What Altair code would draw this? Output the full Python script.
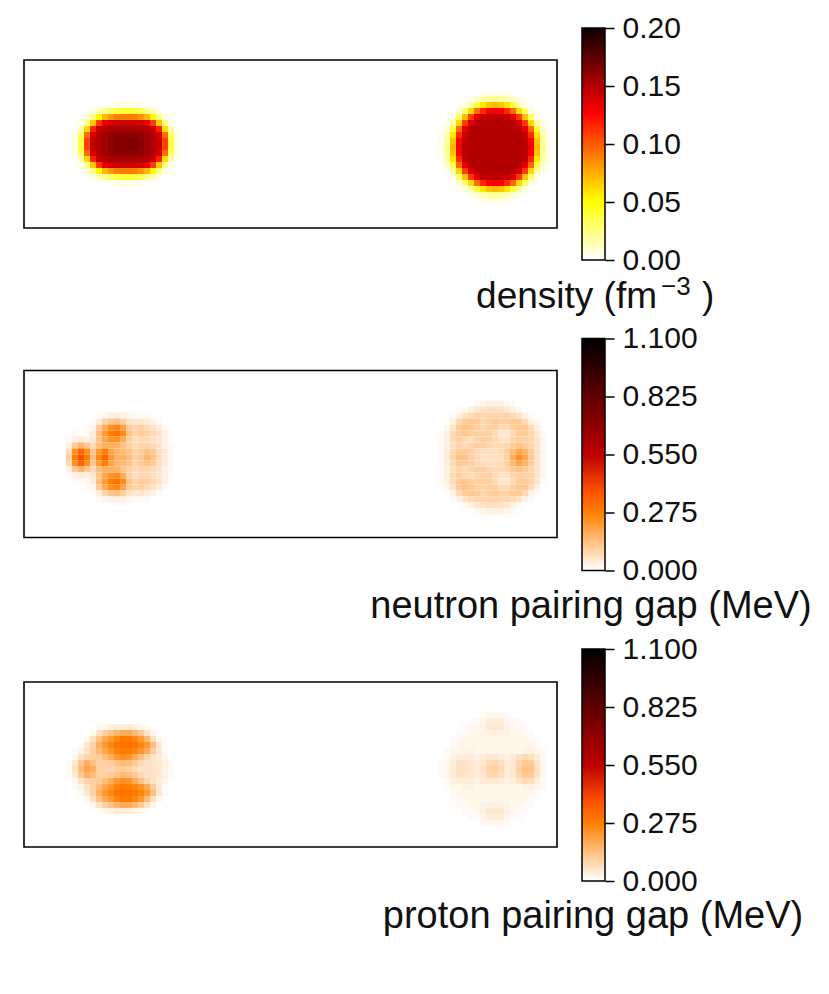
import altair as alt
import pandas as pd

# density in 1e-3 fm^-3, pairing gaps in 0.01 MeV. Blobs are mirrored top to bottom.
density_left = [
    [0, 0, 0, 0, 0, 0, 0, 1, 1, 1, 1, 0, 0, 0, 0, 0, 0, 0],
    [0, 0, 0, 0, 1, 2, 4, 6, 6, 6, 6, 4, 2, 1, 0, 0, 0, 0],
    [0, 0, 1, 6, 14, 24, 32, 38, 40, 40, 38, 32, 24, 14, 6, 1, 0, 0],
    [0, 1, 8, 26, 52, 72, 82, 88, 90, 90, 88, 82, 72, 52, 26, 8, 1, 0],
    [0, 5, 24, 68, 110, 132, 140, 142, 143, 143, 142, 140, 132, 110, 68, 24, 5, 0],
    [2, 16, 60, 118, 145, 150, 152, 152, 152, 152, 152, 152, 150, 145, 118, 60, 16, 2],
    [5, 32, 95, 140, 150, 155, 160, 162, 163, 163, 162, 160, 155, 150, 140, 95, 32, 5],
    [6, 38, 108, 145, 150, 155, 162, 165, 165, 165, 165, 162, 155, 150, 145, 108, 38, 6],
]
density_right = [
    [0, 0, 0, 0, 0, 0, 1, 3, 4, 4, 4, 3, 1, 0, 0, 0, 0, 0, 0],
    [0, 0, 0, 0, 1, 4, 10, 16, 20, 22, 20, 16, 10, 4, 1, 0, 0, 0, 0],
    [0, 0, 0, 1, 6, 18, 38, 58, 68, 72, 68, 58, 38, 18, 6, 1, 0, 0, 0],
    [0, 0, 1, 8, 30, 62, 95, 115, 127, 130, 127, 115, 95, 62, 30, 8, 1, 0, 0],
    [0, 1, 6, 30, 68, 110, 134, 144, 147, 148, 147, 144, 134, 110, 68, 30, 6, 1, 0],
    [0, 4, 18, 62, 110, 138, 148, 150, 150, 150, 150, 150, 148, 138, 110, 62, 18, 4, 0],
    [1, 10, 38, 95, 134, 148, 150, 150, 150, 150, 150, 150, 150, 148, 134, 95, 38, 10, 1],
    [3, 16, 58, 115, 144, 150, 150, 150, 150, 150, 150, 150, 150, 150, 144, 115, 58, 16, 3],
    [4, 20, 68, 127, 147, 150, 150, 150, 150, 150, 150, 150, 150, 150, 147, 127, 68, 20, 4],
    [4, 22, 72, 130, 148, 150, 150, 150, 150, 150, 150, 150, 150, 150, 148, 130, 72, 22, 4],
]
neutron_left = [
    [0, 0, 0, 0, 0, 1, 2, 3, 3, 3, 2, 1, 1, 1, 0, 0, 0, 0],
    [0, 0, 0, 0, 1, 4, 9, 12, 13, 10, 6, 5, 5, 4, 3, 1, 0, 0],
    [0, 0, 0, 1, 2, 11, 18, 24, 26, 20, 11, 9, 10, 8, 6, 4, 1, 0],
    [0, 1, 1, 1, 4, 14, 22, 28, 30, 25, 13, 9, 11, 10, 8, 6, 3, 0],
    [1, 3, 4, 3, 5, 13, 19, 23, 24, 18, 10, 7, 8, 8, 7, 5, 3, 0],
    [3, 11, 16, 12, 8, 14, 17, 17, 17, 13, 10, 8, 9, 9, 8, 6, 3, 1],
    [8, 24, 33, 24, 12, 22, 28, 20, 16, 15, 13, 9, 11, 13, 11, 7, 4, 1],
    [10, 28, 38, 28, 14, 26, 34, 22, 16, 17, 14, 10, 12, 16, 13, 8, 4, 1],
]
neutron_right = [
    [0, 0, 0, 0, 0, 0, 1, 2, 3, 3, 3, 2, 1, 0, 0, 0, 0, 0, 0],
    [0, 0, 0, 0, 1, 3, 5, 6, 7, 7, 6, 5, 3, 1, 0, 0, 0, 0, 0],
    [0, 0, 1, 3, 6, 8, 9, 9, 9, 9, 9, 9, 8, 6, 3, 1, 0, 0, 0],
    [0, 0, 3, 8, 11, 12, 11, 9, 10, 11, 10, 10, 11, 11, 8, 3, 1, 0, 0],
    [0, 2, 6, 11, 13, 12, 10, 9, 10, 10, 8, 8, 10, 12, 12, 8, 3, 0, 0],
    [1, 3, 8, 11, 12, 10, 10, 10, 10, 8, 5, 5, 8, 11, 11, 9, 5, 1, 0],
    [1, 3, 8, 10, 8, 7, 9, 10, 10, 8, 6, 6, 9, 10, 10, 9, 6, 2, 0],
    [1, 3, 7, 9, 8, 9, 10, 10, 9, 8, 8, 9, 11, 13, 11, 9, 6, 2, 0],
    [1, 4, 8, 11, 11, 10, 8, 7, 7, 7, 8, 10, 15, 19, 16, 11, 6, 2, 0],
    [1, 4, 9, 13, 13, 10, 8, 6, 6, 7, 7, 10, 18, 24, 19, 12, 6, 2, 0],
]
proton_left = [
    [0, 0, 0, 0, 0, 1, 2, 3, 4, 4, 4, 3, 2, 1, 0, 0, 0, 0],
    [0, 0, 0, 0, 2, 6, 10, 13, 16, 18, 18, 15, 11, 6, 2, 0, 0, 0],
    [0, 0, 0, 2, 7, 13, 18, 22, 26, 29, 29, 26, 22, 15, 7, 2, 0, 0],
    [0, 0, 1, 5, 10, 17, 22, 26, 29, 31, 31, 29, 26, 22, 14, 5, 1, 0],
    [0, 1, 3, 6, 10, 15, 19, 23, 27, 29, 28, 26, 23, 18, 11, 5, 1, 0],
    [0, 2, 6, 9, 10, 11, 14, 18, 22, 24, 23, 18, 13, 9, 6, 4, 2, 0],
    [1, 5, 12, 17, 14, 10, 10, 11, 13, 15, 14, 11, 8, 6, 6, 5, 3, 1],
    [1, 6, 14, 20, 17, 10, 9, 9, 10, 11, 10, 8, 6, 6, 6, 5, 3, 1],
]
proton_right = [
    [0, 0, 0, 0, 0, 0, 0, 1, 2, 2, 2, 1, 0, 0, 0, 0, 0, 0, 0],
    [0, 0, 0, 0, 0, 1, 1, 2, 4, 4, 4, 2, 1, 1, 0, 0, 0, 0, 0],
    [0, 0, 0, 0, 1, 1, 2, 3, 5, 5, 5, 3, 2, 1, 1, 0, 0, 0, 0],
    [0, 0, 0, 1, 1, 2, 2, 3, 3, 3, 3, 3, 2, 2, 1, 1, 0, 0, 0],
    [0, 0, 1, 1, 2, 2, 2, 2, 2, 2, 2, 2, 2, 2, 2, 1, 1, 0, 0],
    [0, 0, 1, 2, 2, 2, 2, 2, 2, 2, 2, 2, 2, 2, 2, 2, 1, 0, 0],
    [0, 1, 2, 2, 3, 3, 2, 2, 2, 2, 2, 2, 2, 2, 3, 3, 2, 1, 0],
    [0, 1, 3, 4, 4, 4, 3, 4, 5, 5, 4, 3, 4, 6, 8, 7, 4, 1, 0],
    [1, 2, 4, 6, 6, 5, 4, 5, 8, 9, 7, 4, 5, 9, 12, 11, 6, 2, 0],
    [1, 2, 4, 6, 6, 5, 4, 6, 9, 10, 8, 4, 5, 10, 13, 12, 7, 2, 0],
]

density_ticks = [0.0, 0.05, 0.10, 0.15, 0.20]
gap_ticks = [0.0, 0.275, 0.55, 0.825, 1.1]

# hot_r and gist_heat_r
hot_stops = [(0, '#ffffff'), (0.254, '#ffff00'), (0.635, '#ff0000'), (1, '#0b0000')]
heat_stops = [(0, '#ffffff'), (0.25, '#ff8000'), (0.3333, '#ff5500'), (0.5, '#bf0000'), (1, '#000000')]

FONT = 'Liberation Sans'
CELL = 6
WIDTH = 533
HEIGHT = 232


def cells(rows, col0, row0, scale, mirror_mid):
    if mirror_mid:
        full = rows + rows[-2::-1]
    else:
        full = rows + rows[::-1]
    out = []
    for r, row in enumerate(full):
        for c, v in enumerate(row):
            out.append({'x0': col0 + c, 'x1': col0 + c + 1,
                        'y0': row0 + r, 'y1': row0 + r + 1, 'v': v / scale})
    return out


def panel(data, stops, vmax, ticks, fmt, top, box_h, pieces):
    df = pd.DataFrame(data)
    xs = alt.Scale(domain=[0, WIDTH / CELL], nice=False, zero=False)
    ys = alt.Scale(domain=[(HEIGHT - top) / CELL, -top / CELL], nice=False, zero=False)
    colors = alt.Scale(domain=[s[0] * vmax for s in stops], range=[s[1] for s in stops],
                       interpolate='rgb', clamp=True)
    image = alt.Chart(df).mark_rect().encode(
        x=alt.X('x0:Q', axis=None, scale=xs),
        x2='x1:Q',
        y=alt.Y('y0:Q', axis=None, scale=ys),
        y2='y1:Q',
        color=alt.Color('v:Q', scale=colors, legend=None),
    )
    frame = alt.Chart(pd.DataFrame({'x0': [0], 'x1': [WIDTH / CELL], 'y0': [0], 'y1': [box_h / CELL]})).mark_rect(
        fillOpacity=0, stroke='black', strokeWidth=1.6
    ).encode(
        x=alt.X('x0:Q', axis=None, scale=xs),
        x2='x1:Q',
        y=alt.Y('y0:Q', axis=None, scale=ys),
        y2='y1:Q',
    )
    left = alt.layer(image, frame).properties(width=WIDTH, height=HEIGHT)

    grad = alt.LinearGradient(
        gradient='linear', x1=0, x2=0, y1=1, y2=0,
        stops=[alt.GradientStop(offset=s[0], color=s[1]) for s in stops],
    )
    bar = alt.Chart(pd.DataFrame({'lo': [0.0], 'hi': [vmax]})).mark_rect(
        color=grad, stroke='black', strokeWidth=1.5
    ).encode(
        x=alt.value(0),
        x2=alt.value(23),
        y=alt.Y('lo:Q', scale=alt.Scale(domain=[0, vmax], nice=False),
                axis=alt.Axis(orient='right', values=ticks, format=fmt, title=None, grid=False,
                              domain=False, tickSize=9, tickWidth=1.5, tickColor='black',
                              labelFont=FONT, labelFontSize=30, labelColor='#111111', labelPadding=8,
                              labelOverlap=False, labelFlush=False, labelBound=False)),
        y2='hi:Q',
    )
    layers = [bar]
    for text, px, py, size, align in pieces:
        layers.append(
            alt.Chart(pd.DataFrame({'t': [text]})).mark_text(
                font=FONT, fontSize=size, align=align, baseline='middle', color='#111111'
            ).encode(x=alt.value(px), y=alt.value(py), text='t:N')
        )
    right = alt.layer(*layers).properties(width=23, height=HEIGHT)
    return [left, right]


row1 = panel(cells(density_left, 8, 6, 1000, False) + cells(density_right, 69, 5, 1000, True),
             hot_stops, 0.20, density_ticks, '.2f', 32, 168,
             [('density (fm', 75, 269, 37, 'right'), ('\u22123', 79, 259, 26, 'left'), (')', 120, 269, 37, 'left')])
row2 = panel(cells(neutron_left, 7, 7, 100, True) + cells(neutron_right, 69, 5, 100, True),
             heat_stops, 1.1, gap_ticks, '.3f', 32, 167,
             [('neutron pairing gap (MeV)', 9, 268, 38, 'center')])
row3 = panel(cells(proton_left, 7, 7, 100, True) + cells(proton_right, 69, 5, 100, True),
             heat_stops, 1.1, gap_ticks, '.3f', 33, 165,
             [('proton pairing gap (MeV)', 11, 268, 38, 'center')])

chart = alt.concat(*row1, *row2, *row3, columns=2, align='each', bounds='flush',
                   spacing={'row': 78.5, 'column': 25}).resolve_scale(
    color='independent', y='independent', x='independent'
).properties(
    padding={'left': 15, 'top': 5, 'right': 0, 'bottom': 0}
).configure_view(stroke=None)

chart.save("out.html", embed_options={"renderer": "svg", "actions": False})
